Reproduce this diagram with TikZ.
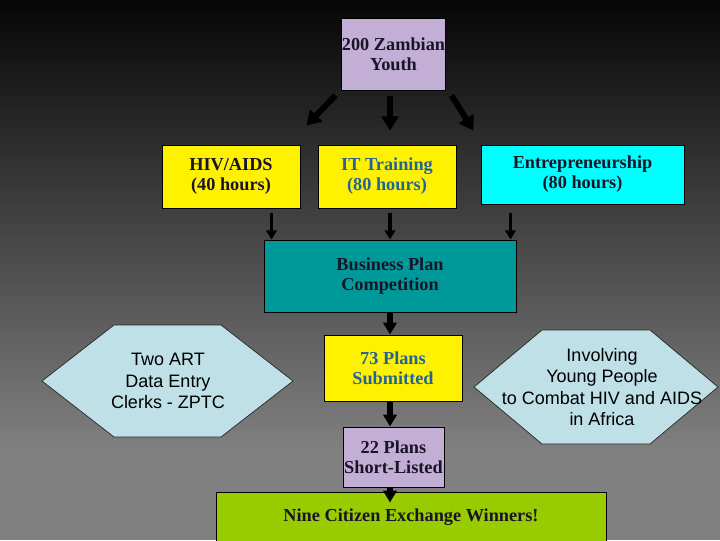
\documentclass[tikz,border=0pt]{standalone}
\usepackage{fontspec}
\setmainfont{Liberation Serif}
\setsansfont{Liberation Sans}
\usetikzlibrary{arrows.meta,calc}

\definecolor{lavender}{RGB}{195,174,214}
\definecolor{cyan2}{RGB}{0,255,255}
\definecolor{teal2}{RGB}{0,153,153}
\definecolor{lime2}{RGB}{153,204,0}
\definecolor{hexblue}{RGB}{190,224,230}
\definecolor{bluetext}{RGB}{35,100,150}
\definecolor{darktext}{RGB}{25,20,40}
\definecolor{bgtop}{RGB}{6,6,6}
\definecolor{bggray}{RGB}{128,128,128}

% one pixel of the 720x540 slide
\newcommand{\pxl}{0.025cm}

\tikzset{
  box/.style 2 args={draw=black, line width=0.7pt, inner sep=0pt, align=center,
    minimum width=#1*\pxl, minimum height=#2*\pxl,
    font=\fontsize{13}{14.2}\selectfont\bfseries, text=darktext},
  hexlabel/.style={align=center, font=\fontsize{12.8}{15.2}\selectfont\sffamily, text=black},
  hexshape/.style={draw=black!85, line width=0.5pt, fill=hexblue},
  bigarrow/.style={line width=4.2pt, -{Triangle[width=12pt,length=10pt]}},
  midarrow/.style={line width=4pt, -{Triangle[width=9.5pt,length=8.5pt]}},
  smallarrow/.style={line width=2.8pt, -{Triangle[width=7.5pt,length=6.5pt]}},
}

\begin{document}
\begin{tikzpicture}[x=\pxl, y=-\pxl]
  \useasboundingbox (0,0) rectangle (720,540);
  \clip (0,0) rectangle (720,540);

  % background
  \fill[top color=bgtop, bottom color=bggray] (0,0) rectangle (720,450);
  \fill[bggray] (0,450) rectangle (720,540);

  % boxes
  \node[box={101}{72}, fill=lavender] (youth) at (393.5,54) {200 Zambian\\Youth};
  \node[box={138}{63}, fill=yellow] (hiv) at (231,176.5) {HIV/AIDS\\(40 hours)};
  \node[box={138}{63}, fill=yellow, text=bluetext] (it) at (387,176.5) {IT Training\\(80 hours)};
  \node[box={203}{59}, fill=cyan2] (entre) at (582.5,174.5) {Entrepreneurship\\(80 hours)};
  \node[box={252}{72}, fill=teal2] (bpc) at (390,276) {Business Plan\\Competition};
  \node[box={138}{66}, fill=yellow, text=bluetext] (plans73) at (393,368) {73 Plans\\Submitted};
  \node[box={101}{60}, fill=lavender] (plans22) at (393.5,457) {22 Plans\\Short-Listed};
  \node[box={390}{50}, fill=lime2] (winners) at (411,517) {Nine Citizen Exchange Winners!};

  % hexagons
  \coordinate (clerksc) at (167.5,381);
  \draw[hexshape] ($(clerksc)+(-125.5,0)$) -- ($(clerksc)+(-53.5,-56)$) -- ($(clerksc)+(53.5,-56)$)
    -- ($(clerksc)+(125.5,0)$) -- ($(clerksc)+(53.5,56)$) -- ($(clerksc)+(-53.5,56)$) -- cycle;
  \node[hexlabel] (clerks) at (168,381) {Two ART\\Data Entry\\Clerks - ZPTC};

  \coordinate (involvec) at (596,387);
  \draw[hexshape] ($(involvec)+(-122,0)$) -- ($(involvec)+(-54,-57)$) -- ($(involvec)+(54,-57)$)
    -- ($(involvec)+(122,0)$) -- ($(involvec)+(54,57)$) -- ($(involvec)+(-54,57)$) -- cycle;
  \node[hexlabel] (involve) at (602,387) {Involving\\Young People\\to Combat HIV and AIDS\\in Africa};

  % arrows from the youth box
  \draw[bigarrow] ($(youth.south west)+(-6,5)$) -- ($(hiv.north east)+(6,-19)$);
  \draw[bigarrow] ($(youth.south)+(-3.5,6)$) -- ($(youth.south |- it.north)+(-3.5,-14)$);
  \draw[bigarrow] ($(youth.south east)+(6,5)$) -- ($(entre.north west)+(-7,-14)$);

  % arrows into the competition
  \draw[smallarrow] ($(bpc.north west)+(8,-27)$) -- ($(bpc.north west)+(8,0)$);
  \draw[smallarrow] ($(bpc.north)+(0,-27)$) -- (bpc.north);
  \draw[smallarrow] ($(bpc.north east)+(-6,-27)$) -- ($(bpc.north east)+(-6,0)$);

  % chain down
  \draw[midarrow] (bpc.south) -- (bpc.south |- plans73.north);
  \draw[midarrow] (plans73.south -| bpc.south) -- (plans22.north -| bpc.south);
  \draw[midarrow] (plans22.south -| bpc.south) -- ($(winners.north -| bpc.south)+(0,11)$);
\end{tikzpicture}
\end{document}
